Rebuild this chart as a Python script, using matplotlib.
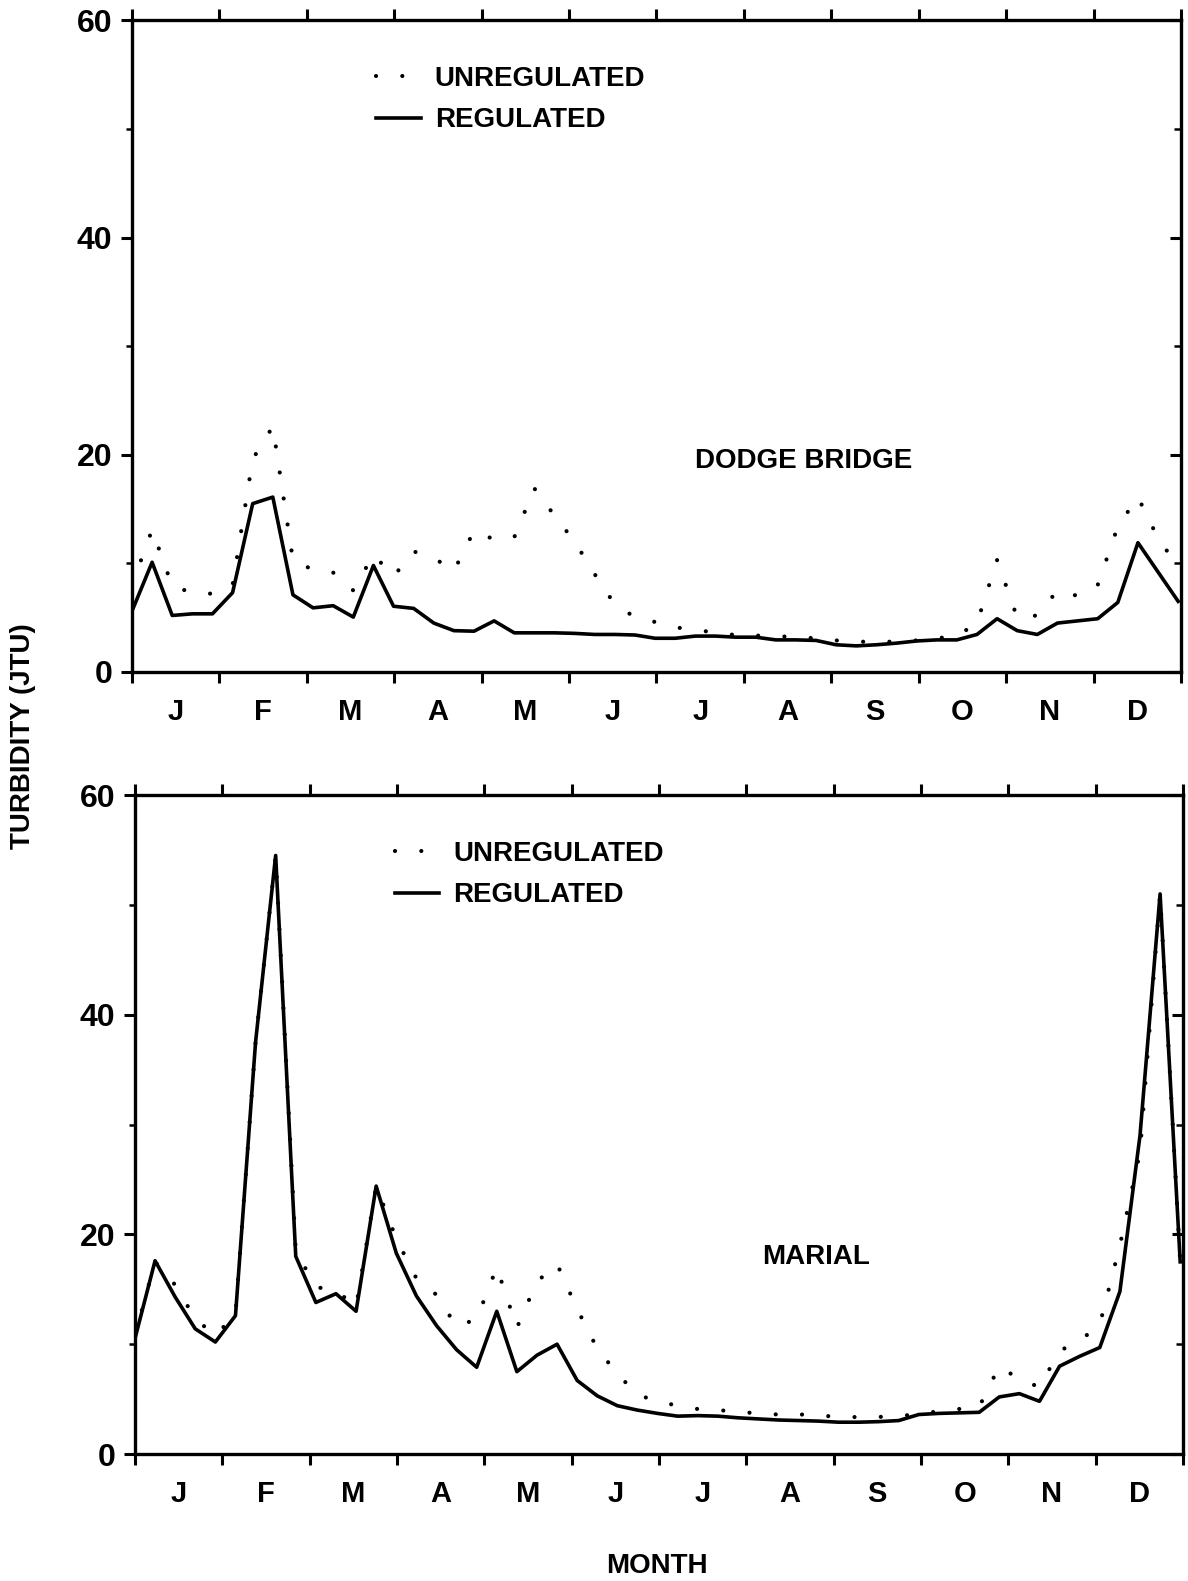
import numpy as np
import matplotlib
matplotlib.use('Agg')
import matplotlib.pyplot as plt
from matplotlib.ticker import FixedLocator, FixedFormatter, NullFormatter

plt.rcParams['font.family'] = ['Liberation Sans', 'DejaVu Sans']
plt.rcParams['font.weight'] = 'bold'

# ---------------- data (weekly values, week 0..52) ----------------
weeks = list(range(53))
months = ['J', 'F', 'M', 'A', 'M', 'J', 'J', 'A', 'S', 'O', 'N', 'D']

dodge_unreg = [8.0, 13.1, 7.9, 7.3, 7.2, 8.0, 19.6, 22.6, 10.3, 9.4,
               9.15, 7.5, 10.8, 8.8, 11.1, 10.5, 9.3, 13.0, 12.2, 12.4,
               16.9, 14.4, 12.0, 9.0, 6.2, 5.05, 4.6, 4.1, 3.9, 3.6,
               3.4, 3.35, 3.3, 3.2, 3.1, 2.9, 2.8, 2.75, 2.8, 2.9,
               3.1, 3.3, 4.5, 10.3, 5.0, 5.2, 7.5, 7.0, 8.0, 13.4,
               16.1, 12.3, 9.7]
dodge_reg = [5.6, 10.1, 5.2, 5.35, 5.35, 7.3, 15.5, 16.1, 7.1, 5.9,
             6.1, 5.05, 9.8, 6.05, 5.85, 4.5, 3.8, 3.75, 4.7, 3.6,
             3.6, 3.6, 3.55, 3.45, 3.45, 3.4, 3.1, 3.1, 3.3, 3.3,
             3.2, 3.2, 2.95, 2.95, 2.9, 2.5, 2.4, 2.5, 2.65, 2.85,
             2.95, 2.95, 3.45, 4.9, 3.8, 3.45, 4.5, 4.7, 4.9, 6.4,
             11.9, 9.2, 6.5]

marial_unreg = [10.8, 17.5, 15.4, 12.3, 10.8, 12.7, 37.5, 54.5, 18.5, 15.2,
                14.9, 13.4, 24.4, 19.6, 16.0, 14.5, 11.6, 12.3, 17.0, 11.5,
                15.7, 17.3, 13.2, 9.6, 7.3, 5.4, 4.8, 4.4, 4.1, 4.0,
                3.85, 3.7, 3.6, 3.62, 3.5, 3.4, 3.36, 3.38, 3.45, 3.65,
                3.9, 4.1, 4.3, 8.0, 6.8, 6.1, 9.4, 10.3, 11.8, 19.0,
                27.5, 51.0, 17.5]
marial_reg = [10.5, 17.6, 14.3, 11.4, 10.2, 12.6, 37.5, 54.5, 18.0, 13.8,
              14.6, 13.0, 24.4, 18.3, 14.4, 11.7, 9.5, 7.9, 13.0, 7.5,
              9.0, 10.0, 6.7, 5.3, 4.4, 4.0, 3.7, 3.45, 3.5, 3.45,
              3.3, 3.2, 3.1, 3.05, 3.0, 2.9, 2.9, 2.95, 3.05, 3.6,
              3.7, 3.75, 3.8, 5.2, 5.5, 4.8, 8.0, 8.9, 9.7, 14.8,
              29.0, 51.0, 17.5]

YEAR_WEEKS = 52.14
FS = 20

fig = plt.figure(figsize=(11.88, 15.81), dpi=100)
ax1 = fig.add_axes([0.1111, 0.5750, 0.8830, 0.4121])
ax2 = fig.add_axes([0.1136, 0.0803, 0.8822, 0.4168])


def style(ax):
    ax.set_xlim(0, YEAR_WEEKS)
    ax.set_ylim(0, 60)
    span = YEAR_WEEKS / 12
    ax.xaxis.set_major_locator(FixedLocator([i * span for i in range(13)]))
    ax.xaxis.set_minor_locator(FixedLocator([(i + 0.5) * span for i in range(12)]))
    ax.xaxis.set_major_formatter(NullFormatter())
    ax.xaxis.set_minor_formatter(FixedFormatter(months))
    ax.tick_params(axis='x', which='major', direction='out', length=8, width=2.2,
                   top=True, bottom=True)
    ax.tick_params(axis='x', which='minor', length=0, pad=19, labelsize=21)
    ax.yaxis.set_major_locator(FixedLocator([0, 20, 40, 60]))
    ax.yaxis.set_minor_locator(FixedLocator([10, 30, 50]))
    ax.tick_params(axis='y', which='major', direction='out', length=8, width=2.2,
                   labelsize=23, pad=6)
    ax.tick_params(axis='y', which='minor', direction='out', length=4, width=1.8)
    for s in ax.spines.values():
        s.set_linewidth(2.4)
    tw = ax.twinx()
    tw.set_ylim(0, 60)
    tw.yaxis.set_major_locator(FixedLocator([0, 20, 40, 60]))
    tw.yaxis.set_minor_locator(FixedLocator([10, 30, 50]))
    tw.tick_params(axis='y', which='major', direction='in', length=8, width=2.2,
                   labelright=False)
    tw.tick_params(axis='y', which='minor', direction='in', length=5, width=1.8)
    for s in tw.spines.values():
        s.set_visible(False)


def draw(ax, unreg, reg, station, sx, sy, lx, ly):
    style(ax)
    h1, = ax.plot(weeks, unreg, color='black', lw=3.0, ls=(0, (0.01, 6.3)),
                  dash_capstyle='round', label='UNREGULATED')
    h2, = ax.plot(weeks, reg, color='black', lw=2.6, label='REGULATED',
                  solid_joinstyle='round')
    ax.legend(handles=[h1, h2], loc='upper left', bbox_to_anchor=(lx, ly),
              frameon=False, fontsize=FS, handlelength=1.6, handletextpad=0.5,
              borderaxespad=0, borderpad=0, labelspacing=0.55)
    ax.text(sx, sy, station, transform=ax.transAxes, ha='center', va='center',
            fontsize=FS, fontweight='bold')


draw(ax1, dodge_unreg, dodge_reg, 'DODGE BRIDGE', 0.64, 0.324, 0.233, 0.93)
draw(ax2, marial_unreg, marial_reg, 'MARIAL', 0.65, 0.299, 0.248, 0.93)

fig.text(0.0195, 1 - 736 / 1581, 'TURBIDITY (JTU)', rotation=90, ha='center',
         va='center', fontsize=FS, fontweight='bold')
fig.text(657 / 1188, 1 - 1566 / 1581, 'MONTH', ha='center', va='center',
         fontsize=FS, fontweight='bold')

fig.savefig('out.png', dpi=100)
